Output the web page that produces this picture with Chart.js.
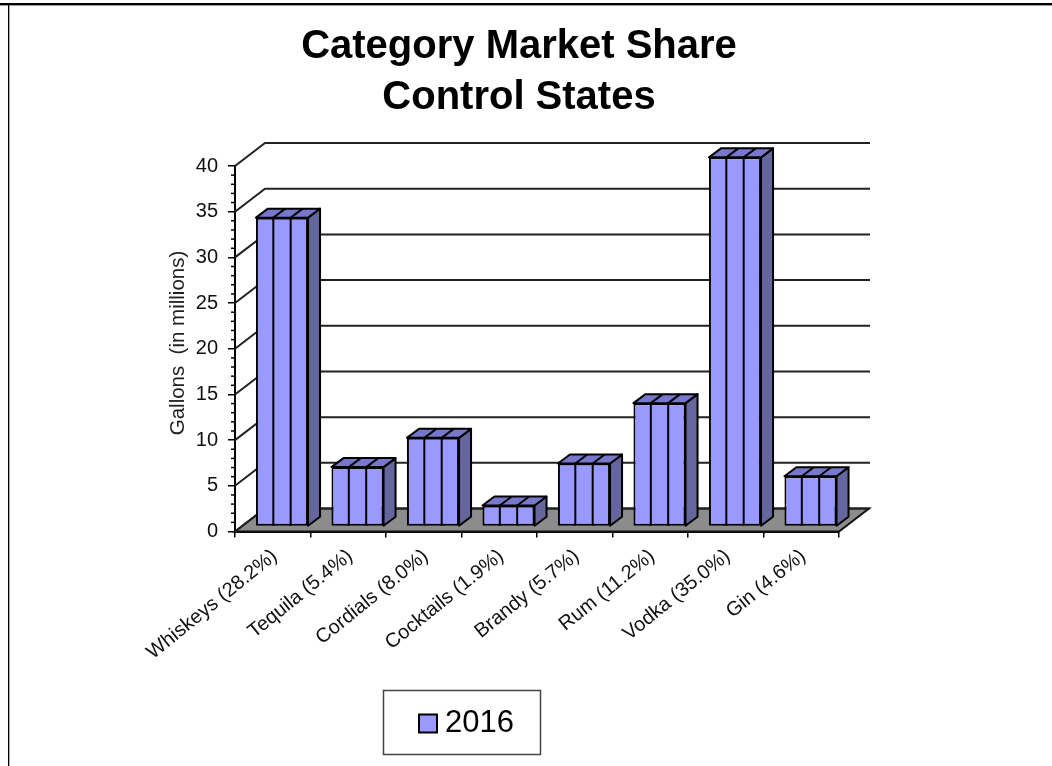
<!DOCTYPE html>
<html><head><meta charset="utf-8">
<style>
html,body{margin:0;padding:0;background:#fff;width:1052px;height:766px;overflow:hidden}
#c{position:absolute;left:0;top:0}
.k{position:absolute}
</style>
<script src="https://cdn.jsdelivr.net/npm/chart.js@4"></script>
</head><body>
<div class="k" style="left:0;top:3px;width:1052px;height:2px;background:#000"></div>
<div class="k" style="left:0;top:5px;width:1052px;height:1px;background:#999"></div>
<div class="k" style="left:8px;top:5px;width:1px;height:761px;background:#000"></div>
<div class="k" style="left:9px;top:6px;width:1px;height:760px;background:#aaa"></div>
<canvas id="c" width="1052" height="766" style="width:1052px;height:766px"></canvas>
<script>
const categories=['Whiskeys (28.2%)','Tequila (5.4%)','Cordials (8.0%)','Cocktails (1.9%)','Brandy (5.7%)','Rum (11.2%)','Vodka (35.0%)','Gin (4.6%)'];
const seriesName='2016';
const gallons=[33.8,6.5,9.7,2.3,6.9,13.5,40.4,5.5];
const titleLines=['Category Market Share','Control States'];
const yAxisTitle='Gallons  (in millions)';

const WALL={dx:30,dy:-23,right:870};
const BAR={shiftX:9.25,shiftY:-5,dx:12,dy:-9};
const FILL={front:'#9999FF',side:'#66669F',top:'#7777CC',floor:'#8C8C8C'};

const threeD={
  id:'threeD',
  afterLayout(chart){
    const l=chart.legend;
    l.left=383;l.right=540;l.top=664.5;l.bottom=755;l.width=157;l.height=90.5;
    const t=chart.titleBlock;
    t.left=0;t.right=1038;t.width=1038;
  },
  beforeDraw(chart){
    const c=chart.ctx;
    c.save();c.strokeStyle='#444';c.lineWidth=1.5;c.strokeRect(383.5,690.5,157,64);c.restore();
  },
  beforeDatasetsDraw(chart){
    const c=chart.ctx,y=chart.scales.y,x=chart.scales.x;
    const x0=x.left,x1=x.right,y0=y.getPixelForValue(0);
    c.save();
    c.beginPath();c.moveTo(x0,y0);c.lineTo(x0+WALL.dx,y0+WALL.dy);c.lineTo(x1+WALL.dx,y0+WALL.dy);c.lineTo(x1,y0);c.closePath();
    c.fillStyle=FILL.floor;c.fill();
    c.strokeStyle='#111';c.lineWidth=2;c.stroke();
    c.strokeStyle='#222';c.lineWidth=2;
    y.ticks.forEach(t=>{
      const p=y.getPixelForValue(t.value);
      c.beginPath();c.moveTo(x0,p);c.lineTo(x0+WALL.dx,p+WALL.dy);c.lineTo(WALL.right,p+WALL.dy);c.stroke();
    });
    c.strokeStyle='#000';c.lineWidth=1.5;
    for(let v=y.min;v<=y.max;v++){
      if(v%5===0)continue;
      const p=y.getPixelForValue(v);
      c.beginPath();c.moveTo(x0-4,p);c.lineTo(x0,p);c.stroke();
    }
    c.translate(178,343);c.rotate(-Math.PI/2);
    c.font='20.5px "Liberation Sans"';c.fillStyle='#222';c.textAlign='center';c.textBaseline='middle';
    c.fillText(yAxisTitle,0,0);
    c.restore();
    c.save();
    c.translate(BAR.shiftX,BAR.shiftY);
    const meta=chart.getDatasetMeta(0);
    c.lineJoin='round';
    meta.data.forEach(b=>{
      const l=b.x-b.width/2,r=b.x+b.width/2,t=b.y,bt=b.base;
      c.strokeStyle='#000';c.lineWidth=2;
      c.beginPath();c.moveTo(r,t);c.lineTo(r+BAR.dx,t+BAR.dy);c.lineTo(r+BAR.dx,bt+BAR.dy);c.lineTo(r,bt);c.closePath();
      c.fillStyle=FILL.side;c.fill();c.stroke();
      c.beginPath();c.moveTo(l,t);c.lineTo(l+BAR.dx,t+BAR.dy);c.lineTo(r+BAR.dx,t+BAR.dy);c.lineTo(r,t);c.closePath();
      c.fillStyle=FILL.top;c.fill();c.stroke();
      [1/3,2/3].forEach(f=>{
        const m=l+b.width*f;
        c.beginPath();c.moveTo(m,t);c.lineTo(m+BAR.dx,t+BAR.dy);c.stroke();
      });
    });
  },
  afterDatasetsDraw(chart){
    const c=chart.ctx;
    chart.getDatasetMeta(0).data.forEach(b=>{
      const l=b.x-b.width/2;
      c.strokeStyle='#000';c.lineWidth=2;
      [1/3,2/3].forEach(f=>{
        const m=l+b.width*f;
        c.beginPath();c.moveTo(m,b.y);c.lineTo(m,b.base);c.stroke();
      });
    });
    c.restore();
  }
};

new Chart(document.getElementById('c'),{
  type:'bar',
  data:{labels:categories,datasets:[{label:seriesName,data:gallons,backgroundColor:FILL.front,borderColor:'#000',borderWidth:2,borderSkipped:false,clip:false,barPercentage:1,categoryPercentage:0.69}]},
  plugins:[threeD],
  options:{
    responsive:false,animation:false,
    layout:{padding:{left:0,right:213,top:0,bottom:0}},
    plugins:{
      title:{display:true,text:titleLines,color:'#000',font:{family:'"Liberation Sans"',size:40,weight:'bold',lineHeight:1.275},padding:{top:21,bottom:43}},
      legend:{display:true,position:'chartArea',align:'start',
        labels:{usePointStyle:true,pointStyle:'rect',boxWidth:3,boxHeight:18,color:'#000',font:{family:'"Liberation Sans"',size:31},padding:43.5}},
      tooltip:{enabled:false}
    },
    scales:{
      x:{
        afterFit(s){s.height=234.5;},
        border:{color:'#000',width:2},
        grid:{drawOnChartArea:false,offset:true,color:'#000',lineWidth:1.5,tickLength:6,drawTicks:true},
        ticks:{autoSkip:false,maxRotation:39,minRotation:39,color:'#111',padding:7,labelOffset:2,font:{family:'"Liberation Sans"',size:20}}
      },
      y:{
        min:0,max:40,
        afterFit(s){s.width=235;},
        border:{color:'#000',width:2},
        grid:{drawOnChartArea:false,color:'#000',lineWidth:1.5,tickLength:7},
        ticks:{stepSize:5,color:'#111',padding:10,font:{family:'"Liberation Sans"',size:20}}
      }
    }
  }
});
</script>
</body></html>
